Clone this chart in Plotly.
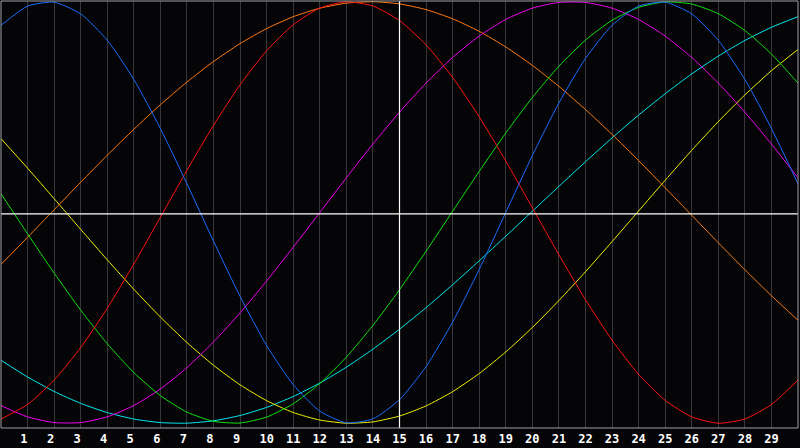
#import necessary packages
import plotly.graph_objects as go

#days shown along the bottom
days = list(range(0, 31))
day_labels = [str(d) + ('\u00a0' if d < 10 else '') for d in range(1, 30)]

#curve values, one value per day (0..30)
physical = [0.8879, 0.9791, 0.9977, 0.9423, 0.8169, 0.6313, 0.3984, 0.1362, -0.1362, -0.3984,
            -0.6313, -0.8169, -0.9423, -0.9977, -0.9791, -0.8879, -0.7308, -0.5196, -0.2698, 0.0,
            0.2698, 0.5196, 0.7308, 0.8879, 0.9791, 0.9977, 0.9423, 0.8169, 0.6313, 0.3984, 0.1362]
emotional = [-0.9797, -0.9105, -0.7954, -0.6408, -0.4540, -0.2443, -0.0224, 0.2006, 0.4136, 0.6060,
             0.7678, 0.8910, 0.9697, 0.9997, 0.9797, 0.9105, 0.7954, 0.6408, 0.4540, 0.2443,
             0.0224, -0.2006, -0.4136, -0.6060, -0.7678, -0.8910, -0.9697, -0.9997, -0.9797, -0.9105, -0.7954]
intellectual = [0.0894, -0.1007, -0.2872, -0.4633, -0.6226, -0.7594, -0.8689, -0.9469, -0.9906, -0.9986,
                -0.9705, -0.9073, -0.8113, -0.6859, -0.5358, -0.3663, -0.1836, 0.0058, 0.1949, 0.3770,
                0.5455, 0.6940, 0.8178, 0.9120, 0.9731, 0.9991, 0.9890, 0.9431, 0.8631, 0.7520, 0.6137]
intuitive = [-0.9158, -0.9694, -0.9966, -0.9966, -0.9694, -0.9158, -0.8371, -0.7357, -0.6142, -0.4759,
             -0.3247, -0.1646, 0.0, 0.1646, 0.3247, 0.4759, 0.6142, 0.7357, 0.8371, 0.9158,
             0.9694, 0.9966, 0.9966, 0.9694, 0.9158, 0.8371, 0.7357, 0.6142, 0.4759, 0.3247, 0.1646]
aesthetic = [0.3504, 0.2103, 0.0658, -0.0802, -0.2246, -0.3641, -0.4958, -0.6170, -0.7250, -0.8175,
             -0.8927, -0.9488, -0.9847, -0.9996, -0.9932, -0.9656, -0.9175, -0.8498, -0.7640, -0.6616,
             -0.5455, -0.4178, -0.2811, -0.1383, 0.0073, 0.1528, 0.2951, 0.4310, 0.5577, 0.6726, 0.7733]
awareness = [-0.2462, -0.1175, 0.0131, 0.1435, 0.2714, 0.3947, 0.5113, 0.6190, 0.7163, 0.8014,
             0.8725, 0.9288, 0.9692, 0.9931, 0.9999, 0.9897, 0.9625, 0.9188, 0.8594, 0.7853,
             0.6978, 0.5983, 0.4886, 0.3706, 0.2462, 0.1175, -0.0131, -0.1435, -0.2714, -0.3947, -0.5113]
spiritual = [-0.7008, -0.7803, -0.8488, -0.9053, -0.9492, -0.9798, -0.9966, -0.9994, -0.9881, -0.9631,
             -0.9245, -0.8729, -0.8090, -0.7338, -0.6482, -0.5536, -0.4513, -0.3427, -0.2292, -0.1124,
             0.0059, 0.1241, 0.2406, 0.3538, 0.4619, 0.5635, 0.6574, 0.7418, 0.8160, 0.8786, 0.9289]

#series in drawing order with their colours
series = [
    ('Spiritual', spiritual, '#00e8f0'),
    ('Aesthetic', aesthetic, '#f0f000'),
    ('Awareness', awareness, '#ff7a10'),
    ('Intuitive', intuitive, '#f000f0'),
    ('Intellectual', intellectual, '#10e010'),
    ('Emotional', emotional, '#ff1010'),
    ('Physical', physical, '#1a6cff'),
]

today = 15

fig = go.Figure()
for name, values, colour in series:
    fig.add_trace(go.Scatter(x=days, y=values, name=name, mode='lines',
                             line=dict(color=colour, width=1, shape='spline', smoothing=0.6),
                             hoverinfo='skip'))

#white cross: today and the zero line
fig.add_shape(type='line', x0=today, x1=today, y0=0, y1=1, xref='x', yref='paper',
              line=dict(color='white', width=1.2), layer='above')
fig.add_shape(type='line', x0=0, x1=1, y0=-0.007, y1=-0.007, xref='paper', yref='y',
              line=dict(color='white', width=1.2), layer='above')
#grey frame round the plot
fig.add_shape(type='rect', x0=0, x1=1, y0=0, y1=1, xref='paper', yref='paper',
              line=dict(color='#a0a0a0', width=1), layer='above')

fig.update_layout(
    width=800, height=448,
    margin=dict(l=1, r=2, t=1, b=20, autoexpand=False),
    paper_bgcolor='#050508', plot_bgcolor='#050508',
    showlegend=False, hovermode=False,
    xaxis=dict(range=[0, 30], tickvals=list(range(1, 30)), ticktext=day_labels,
               showgrid=True, gridcolor='#38383c', gridwidth=1, zeroline=False,
               ticks='', showline=False, fixedrange=True, ticklabelstandoff=2,
               tickfont=dict(family='DejaVu Sans Mono', size=12, color='white', weight='bold')),
    yaxis=dict(range=[-1.0223, 1.0033], showgrid=False, zeroline=False,
               showticklabels=False, ticks='', fixedrange=True),
)

#page body has a default margin, drop it so the chart sits in the corner
fig.write_html("out.html", config={'displayModeBar': False},
               post_script="document.body.style.margin='0px';")
